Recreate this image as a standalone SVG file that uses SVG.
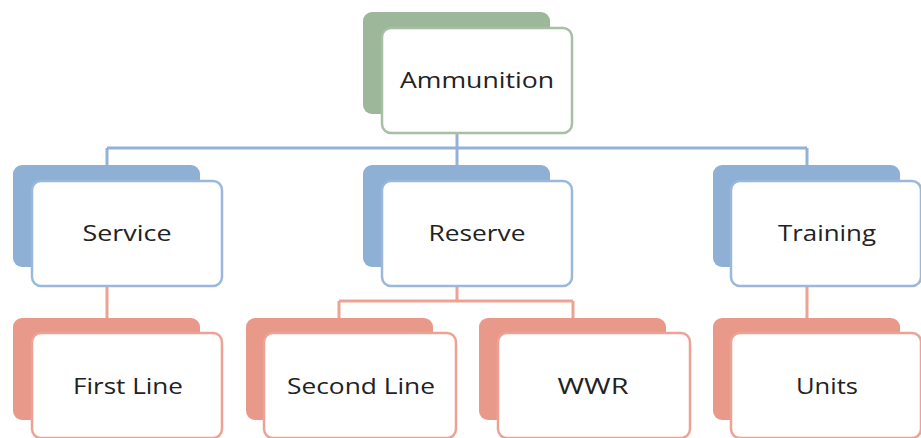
<svg xmlns="http://www.w3.org/2000/svg" width="921" height="438" viewBox="0 0 921 438">
<style>
.bk{stroke:none}
.g .bk{fill:#9db79a}
.b .bk{fill:#8eb0d5}
.o .bk{fill:#e8998a}
.fr{fill:#fff;stroke-width:2.5}
.g .fr{stroke:#a7bfa3}
.b .fr{stroke:#9ab8da}
.o .fr{stroke:#eda393}
text{font-family:"Open Sans","Liberation Sans",sans-serif;font-size:22px;fill:#222;text-anchor:middle}
.cb{fill:none;stroke:#93b2d6;stroke-width:3}
.co{fill:none;stroke:#eda393;stroke-width:3}
</style>
<rect width="921" height="438" fill="#fff"/>
<g id="connectors">
<path class="cb" d="M457,133V148M107,148H807M107,148V166M457,148V166M807,148V166"/>
<path class="co" d="M107,287V318M807,287V318M457,287V301M339,301H573M339,301V318M573,301V318"/>
</g>
<g id="ammunition" class="g">
<rect class="bk" x="363" y="12" width="187" height="102" rx="9"/>
<rect class="fr" x="382" y="28" width="190" height="105" rx="9"/>
<text x="477" y="88" textLength="154" lengthAdjust="spacingAndGlyphs">Ammunition</text>
</g>
<g id="service" class="b">
<rect class="bk" x="13" y="165" width="187" height="102" rx="9"/>
<rect class="fr" x="32" y="181" width="190" height="105" rx="9"/>
<text x="127" y="241" textLength="89" lengthAdjust="spacingAndGlyphs">Service</text>
</g>
<g id="reserve" class="b">
<rect class="bk" x="363" y="165" width="187" height="102" rx="9"/>
<rect class="fr" x="382" y="181" width="190" height="105" rx="9"/>
<text x="477" y="241" textLength="97" lengthAdjust="spacingAndGlyphs">Reserve</text>
</g>
<g id="training" class="b">
<rect class="bk" x="713" y="165" width="187" height="102" rx="9"/>
<rect class="fr" x="731" y="181" width="190" height="105" rx="9"/>
<text x="827" y="241" textLength="98" lengthAdjust="spacingAndGlyphs">Training</text>
</g>
<g id="firstline" class="o">
<rect class="bk" x="13" y="318" width="187" height="102" rx="9"/>
<rect class="fr" x="32" y="333" width="190" height="105" rx="9"/>
<text x="128" y="394" textLength="110" lengthAdjust="spacingAndGlyphs">First Line</text>
</g>
<g id="secondline" class="o">
<rect class="bk" x="246" y="318" width="187" height="102" rx="9"/>
<rect class="fr" x="264" y="333" width="192" height="105" rx="9"/>
<text x="361" y="394" textLength="148" lengthAdjust="spacingAndGlyphs">Second Line</text>
</g>
<g id="wwr" class="o">
<rect class="bk" x="479" y="318" width="187" height="102" rx="9"/>
<rect class="fr" x="498" y="333" width="192" height="105" rx="9"/>
<text x="593" y="394" textLength="71" lengthAdjust="spacingAndGlyphs">WWR</text>
</g>
<g id="units" class="o">
<rect class="bk" x="713" y="318" width="187" height="102" rx="9"/>
<rect class="fr" x="731" y="333" width="190" height="105" rx="9"/>
<text x="827" y="394" textLength="62" lengthAdjust="spacingAndGlyphs">Units</text>
</g>
</svg>
